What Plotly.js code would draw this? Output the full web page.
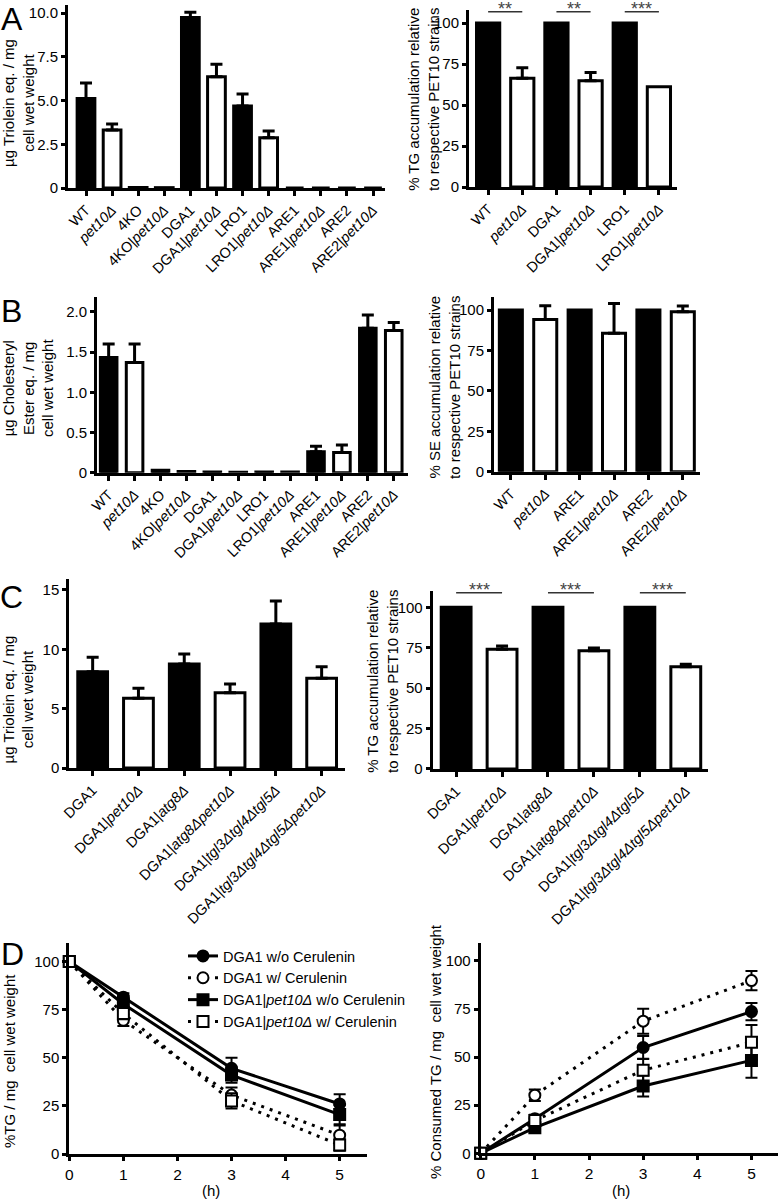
<!DOCTYPE html>
<html><head><meta charset="utf-8">
<script src="https://cdn.plot.ly/plotly-3.0.1.min.js"></script>
<style>html,body{margin:0;padding:0;background:#fff}#chart{width:778px;height:1199px}</style>
</head><body><div id="chart"></div>
<script>
// ---------- DATA ----------
// Panel A left: TG content
const catsA1 = ['WT','<i>pet10Δ</i>','4KO','4KO|<i>pet10Δ</i>','DGA1','DGA1|<i>pet10Δ</i>','LRO1','LRO1|<i>pet10Δ</i>','ARE1','ARE1|<i>pet10Δ</i>','ARE2','ARE2|<i>pet10Δ</i>'];
const valsA1 = [5.12, 3.31, 0.03, 0.02, 9.75, 6.36, 4.69, 2.87, 0, 0, 0, 0];
const errA1  = [0.88, 0.35, null, null, 0.29, 0.71, 0.68, 0.39, null, null, null, null];
// Panel A right: % TG relative
const catsA2 = ['WT','<i>pet10Δ</i>','DGA1','DGA1|<i>pet10Δ</i>','LRO1','LRO1|<i>pet10Δ</i>'];
const valsA2 = [100, 66.3, 100, 64.8, 100, 61.2];
const errA2  = [null, 6.4, null, 5.1, null, null];
const sigStartA2 = [0, 2, 4];
const sigTextA2 = ['**', '**', '***'];
const sigLevelA2 = 107;
// Panel B left: SE content
const catsB1 = catsA1;
const valsB1 = [1.435, 1.37, 0.03, 0.015, 0.01, 0.005, 0.01, 0.01, 0.26, 0.25, 1.796, 1.77];
const errB1  = [0.165, 0.23, null, null, null, null, null, null, 0.07, 0.095, 0.165, 0.10];
// Panel B right: % SE relative
const catsB2 = ['WT','<i>pet10Δ</i>','ARE1','ARE1|<i>pet10Δ</i>','ARE2','ARE2|<i>pet10Δ</i>'];
const valsB2 = [100, 94.2, 100, 85.6, 100, 99.0];
const errB2  = [null, 8.5, null, 18.5, null, 3.5];
// Panel C left: TG content
const catsC = ['DGA1','DGA1|<i>pet10Δ</i>','DGA1|<i>atg8Δ</i>','DGA1|<i>atg8Δpet10Δ</i>','DGA1|<i>tgl3Δtgl4Δtgl5Δ</i>','DGA1|<i>tgl3Δtgl4Δtgl5Δpet10Δ</i>'];
const valsC1 = [8.11, 5.87, 8.76, 6.34, 12.13, 7.56];
const errC1  = [1.22, 0.84, 0.84, 0.74, 1.94, 0.97];
// Panel C right: % TG relative
const valsC2 = [100, 74.0, 100, 73.1, 100, 63.2];
const errC2  = [null, 2.0, null, 1.7, null, 1.5];
const sigStartC2 = [0, 2, 4];
const sigTextC2 = ['***', '***', '***'];
const sigLevelC2 = 109;
// Panel D: time course
const hours = [0, 1, 3, 5];
const seriesNames = ['DGA1 w/o Cerulenin', 'DGA1 w/ Cerulenin', 'DGA1|<i>pet10Δ</i> w/o Cerulenin', 'DGA1|<i>pet10Δ</i> w/ Cerulenin'];
const tgLeft = [
  [100, 81.5, 44.5, 26],
  [100, 69.5, 30.6, 9.8],
  [100, 78, 41, 20.5],
  [100, 73, 27.6, 4.7]
];
const tgLeftErr = [
  [0, 2, 5.5, 5],
  [0, 3, 4, 5],
  [0, 2, 4, 5],
  [0, 3, 4, 3]
];
const consRight = [
  [0, 18, 55, 73.7],
  [0, 30.2, 68.7, 89.8],
  [0, 13.3, 35, 48.3],
  [0, 17, 43.2, 57.7]
];
const consRightErr = [
  [0, 2, 6, 4.5],
  [0, 3, 6.5, 5],
  [0, 2, 5.5, 9],
  [0, 2, 6, 9]
];
const yTicksPct = [0, 25, 50, 75, 100];

// ---------- STYLE / LAYOUT HELPERS ----------
const FONT = 'Liberation Sans, Arial, sans-serif';
const FS = 14.5;     // x tick labels, legend
const FSY = 15;      // y tick labels
const FST = 15;      // axis titles
const W = 778, H = 1199;
const px = (a, b) => [a / W, b / W];
const py = (top, bottom) => [1 - bottom / H, 1 - top / H];

function axisBase(extra) {
  return Object.assign({
    showline: true, linewidth: 3, linecolor: '#000',
    ticks: 'outside', ticklen: 5, tickwidth: 3, tickcolor: '#000',
    showgrid: false, zeroline: false, fixedrange: true,
    tickfont: {family: FONT, size: FS, color: '#000'}
  }, extra);
}
function catAxis(domain, range, anchor) {
  return axisBase({domain, range, anchor, type: 'category', tickangle: -45});
}
function valAxis(domain, range, anchor, tickvals, ticktext, fsize) {
  return axisBase({domain, range, anchor, tickvals, ticktext: ticktext || tickvals.map(String),
    ticklen: 4, tickfont: {family: FONT, size: fsize || FSY, color: '#000'}});
}
function barTrace(cats, vals, errs, xa, ya, width) {
  const up = errs.map(e => e == null ? NaN : e);
  const down = errs.map(e => e == null ? NaN : 0);
  return {
    type: 'bar', x: cats, y: vals, xaxis: xa, yaxis: ya, width: width,
    marker: {color: vals.map((v, i) => i % 2 ? '#fff' : '#000'), line: {color: '#000', width: 3}},
    error_y: {type: 'data', symmetric: false, array: up, arrayminus: down, color: '#000', thickness: 3, width: 6},
    showlegend: false, cliponaxis: false, hoverinfo: 'skip'
  };
}

const traces = [
  barTrace(catsA1, valsA1, errA1, 'x', 'y', 0.68),
  barTrace(catsA2, valsA2, errA2, 'x2', 'y2', 0.68),
  barTrace(catsB1, valsB1, errB1, 'x3', 'y3', 0.64),
  barTrace(catsB2, valsB2, errB2, 'x4', 'y4', 0.67),
  barTrace(catsC, valsC1, errC1, 'x5', 'y5', 0.65),
  barTrace(catsC, valsC2, errC2, 'x6', 'y6', 0.65)
];

const symbols = ['circle', 'circle', 'square', 'square'];
const fills = ['#000', '#fff', '#000', '#fff'];
const dashes = ['solid', '3px,6px', 'solid', '3px,6px'];
function lineTrace(i, ys, errs, xa, ya, showlegend) {
  return {
    type: 'scatter', mode: 'lines+markers', x: hours, y: ys, name: seriesNames[i],
    xaxis: xa, yaxis: ya, showlegend: showlegend, cliponaxis: false, hoverinfo: 'skip',
    line: {color: '#000', width: 3, dash: dashes[i]},
    marker: {symbol: symbols[i], size: 11, color: fills[i], line: {color: '#000', width: 2}},
    error_y: {type: 'data', array: errs, color: '#000', thickness: 2, width: 6}
  };
}
for (let i = 0; i < 4; i++) traces.push(lineTrace(i, tgLeft[i], tgLeftErr[i], 'x7', 'y7', true));
for (let i = 0; i < 4; i++) traces.push(lineTrace(i, consRight[i], consRightErr[i], 'x8', 'y8', false));

const shapes = [];
const annotations = [];
function addSig(starts, texts, level, xa, ya) {
  starts.forEach((s, k) => {
    shapes.push({type: 'line', xref: xa, yref: ya, x0: s, x1: s + 1, y0: level, y1: level, line: {color: '#333', width: 1.5}});
    annotations.push({xref: xa, yref: ya, x: s + 0.5, y: level, text: texts[k], showarrow: false,
      yanchor: 'middle', yshift: 3, font: {family: FONT, size: 18, color: '#444'}});
  });
}
addSig(sigStartA2, sigTextA2, sigLevelA2, 'x2', 'y2');
addSig(sigStartC2, sigTextC2, sigLevelC2, 'x6', 'y6');

function paperText(text, x, y, size, angle) {
  annotations.push({xref: 'paper', yref: 'paper', x: x / W, y: 1 - y / H, text: text, showarrow: false,
    xanchor: 'center', yanchor: 'middle', textangle: angle || 0, font: {family: FONT, size: size, color: '#000'}});
}
// panel letters
paperText('A', 12, 19, 32);
paperText('B', 11, 311, 32);
paperText('C', 11, 597, 32);
paperText('D', 12, 954, 32);
// y-axis titles
paperText('µg Triolein eq. / mg<br>cell wet weight', 18.5, 103.5, FST, -90);
paperText('% TG accumulation relative<br>to respective PET10 strains', 423, 100, FST, -90);
paperText('µg Cholesteryl<br>Ester eq. / mg<br>cell wet weight', 28, 388, FST, -90);
paperText('% SE accumulation relative<br>to respective PET10 strains', 444, 388, FST, -90);
paperText('µg Triolein eq. / mg<br>cell wet weight', 17.5, 700, FST, -90);
paperText('% TG accumulation relative<br>to respective PET10 strains', 382, 682, FST, -90);
paperText('%TG / mg  cell wet weight', 9, 1061, FST, -90);
paperText('% Consumed TG / mg  cell wet weight', 435, 1052, FST, -90);
paperText('(h)', 211, 1190, FST);
paperText('(h)', 621, 1190, FST);

const layout = {
  width: W, height: H, margin: {l: 0, r: 0, t: 0, b: 0},
  paper_bgcolor: '#fff', plot_bgcolor: 'rgba(0,0,0,0)',
  font: {family: FONT, size: FS, color: '#000'},
  barmode: 'group', bargap: 0.3,
  xaxis:  catAxis(px(68, 385), [-0.69, 11.46], 'y'),
  yaxis:  valAxis(py(5, 188), [0, 10.46], 'x', [0, 2.5, 5, 7.5, 10], ['0', '2.5', '5.0', '7.5', '10.0']),
  xaxis2: catAxis(px(469, 677), [-0.56, 5.53], 'y2'),
  yaxis2: valAxis(py(10, 187), [0, 108], 'x2', yTicksPct),
  xaxis3: catAxis(px(97, 408), [-0.45, 11.55], 'y3'),
  yaxis3: valAxis(py(296.7, 472.7), [0, 2.19], 'x3', [0, 0.5, 1, 1.5, 2], ['0', '0.5', '1.0', '1.5', '2.0']),
  xaxis4: catAxis(px(494, 700), [-0.49, 5.5], 'y4'),
  yaxis4: valAxis(py(297.3, 471.7), [0, 107.9], 'x4', yTicksPct),
  xaxis5: catAxis(px(69.3, 345), [-0.51, 5.51], 'y5'),
  yaxis5: valAxis(py(579.3, 768), [0, 15.9], 'x5', [0, 5, 10, 15]),
  xaxis6: catAxis(px(432.7, 708.3), [-0.51, 5.49], 'y6'),
  yaxis6: valAxis(py(591.1, 768.9), [0, 110], 'x6', yTicksPct),
  xaxis7: valAxis(px(69.3, 366.7), [0, 5.5], 'y7', [0, 1, 2, 3, 4, 5], null, 15.5),
  yaxis7: valAxis(py(943.3, 1154), [0, 109.5], 'x7', yTicksPct),
  xaxis8: valAxis(px(480.7, 778), [0, 5.49], 'y8', [0, 1, 2, 3, 4, 5], null, 15.5),
  yaxis8: valAxis(py(942.7, 1153.3), [0, 109.5], 'x8', yTicksPct),
  showlegend: true,
  legend: {x: 183 / W, y: 1 - 940 / H, xanchor: 'left', yanchor: 'top', bgcolor: 'rgba(0,0,0,0)',
    font: {family: FONT, size: FS, color: '#000'}, tracegroupgap: 0, itemwidth: 30},
  shapes: shapes,
  annotations: annotations
};

Plotly.newPlot('chart', traces, layout, {staticPlot: true, displayModeBar: false});
</script>
</body></html>
